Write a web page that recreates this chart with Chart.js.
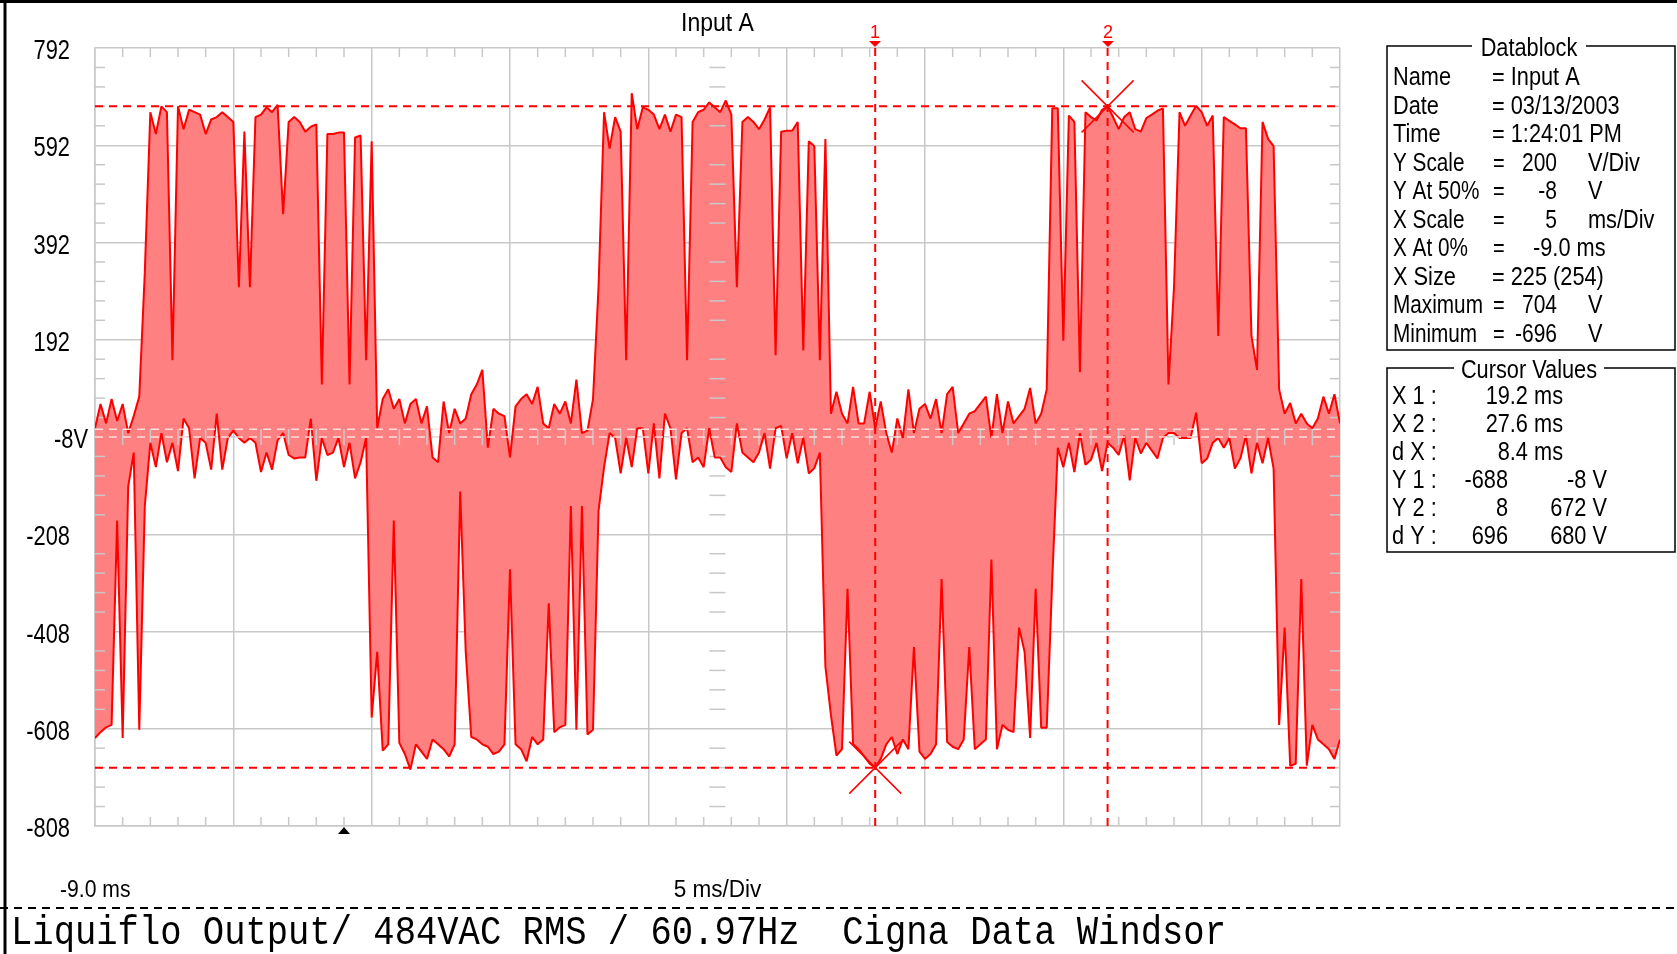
<!DOCTYPE html>
<html>
<head>
<meta charset="utf-8">
<script src="https://cdn.jsdelivr.net/npm/chart.js@4.4.1/dist/chart.umd.min.js"></script>
<style>
  html, body { margin: 0; padding: 0; background: #fff; }
  #wrap { width: 1677px; height: 954px; }
</style>
</head>
<body>
<div id="wrap"><canvas id="scope" width="1677" height="954"></canvas></div>
<script>
// ── Trace data: peak-detect envelope, one pair per 0.2 ms sample ─────
// max envelope (V), 25 samples per 5 ms division
const hiV = [
   10,  60,  20,  70,  25,  60,   0,  35,  75, 330, 660, 615, 672, 660, 150, 672, 625, 665, 660, 655, 615, 645, 650, 660, 650,
  640, 300, 620, 300, 650, 655, 670, 660, 675, 450, 640, 650, 640, 620, 630, 635, 100, 615, 615, 618, 618, 100, 608, 612, 150,
  600,  10,  70,  90,  50,  70,  20,  60,  70,  20,  55, -50, -60,  65,   0,  50,  20,  30,  80, 100, 130, -30,  50,  40,  35,
  -50,  55,  70,  80,  60,  95,  20,  10,  60,  40,  65,  20, 110,   0,   5,  70, 300, 660, 585, 650, 620, 150, 699, 625, 670,
  665, 655, 625, 655, 620, 655, 650, 150, 640, 660, 665, 680, 670, 660, 684, 655, 300, 640, 650, 640, 625, 645, 670, 160, 620,
  622, 622, 640, 170, 600, 590, 150, 605,  40,  85,  40,  20,  95,  20,  20,  85,  10,  65,   0, -40,  30, -10,  90,   0,  50,
   60,  30,  70,   0,  80,  95,   0,  20,  40,  45,  60,  75, -10,  80,   0,  65,  20,  35,  50,  93,  20,  40,  90, 668, 668,
  190, 653, 640, 125, 660, 650, 643, 665, 672, 650, 625, 650, 660, 625, 620, 648, 655, 663, 668, 100, 300, 660, 632, 653, 673,
  660, 632, 653, 200, 650, 642, 635, 627, 627, 200, 130, 640, 605, 590,  90,  40,  62,  20,  40,  20,  10,  30,  75,  40,  80,
   20
];
// min envelope (V)
const loV = [
  -627, -615, -605, -600, -180, -627, -110,  -40, -610, -150,  -20,  -70,    0,  -60,  -20,  -78,   30,   10,  -93,  -10,  -20,  -75,   40,  -75,  -10,
     5,  -10,  -20,  -10,  -20,  -80,  -40,  -75,  -15,    0,  -45,  -52,  -50,  -50,   30,  -98,  -10,  -45,  -40,  -10,  -70,  -20,  -93,  -60,  -10,
  -585, -450, -653, -640, -180, -637, -660, -692, -640, -655, -670, -630, -640, -650, -665, -640, -120, -450, -625, -630, -640, -645, -660, -655, -640,
  -280, -640, -650, -675, -625, -640, -630, -350, -615, -605, -600, -150, -610, -150, -620, -610, -160,  -70,    0,  -10,  -83,  -10,  -70,   10,   10,
   -83,   20,  -93,   40,   10,  -95,    0,   10,  -60,  -50,  -70,   10,  -50,  -50,  -70,  -80,   20,  -40,  -50,  -60,  -40,    0,  -73,   10,   15,
   -52,    0,  -62,  -10,  -83,  -72,  -40, -480, -580, -663, -650, -320, -640, -650, -665, -680, -688, -670, -640, -625, -660, -630, -650, -440, -655,
  -670, -660, -640, -300, -635, -645, -650, -630, -440, -650, -640, -630, -260, -650, -600, -610, -615, -400, -450, -627, -320, -606, -606, -300,  -30,
   -70,  -20,  -80,    0,  -65,  -55,  -20,  -78,  -20,  -30,  -45,   -5,  -97,  -10,  -42,  -20,  -36,  -52,  -10,    0,    0,  -10,  -10,  -10,   42,
   -62,  -52,  -20,  -10,  -30,  -10,  -73,  -52,   -5,  -83,  -20,  -62,  -10,  -73, -600, -400, -684, -680, -300, -684, -600, -630, -640, -650, -670,
  -630
];
// sample clock: X At 0% = -9.0 ms, 0.2 ms per sample
const timeMs = hiV.map((_, i) => -9 + 0.2 * i);

const xMajor = [-9, -4, 1, 6, 11, 16, 21, 26, 31, 36];
const yMajor = [792, 592, 392, 192, -8, -208, -408, -608, -808];
const yTickText = ['792', '592', '392', '192', '-8V', '-208', '-408', '-608', '-808'];

const cursorX = [19.2, 27.6];
const cursorYMain = [-688, 672];
const cursorYRef = [8, -8];
const triggerMs = 0;

const dbLabel = ['Name', 'Date', 'Time', 'Y Scale', 'Y At 50%', 'X Scale', 'X At 0%', 'X Size', 'Maximum', 'Minimum'];
const dbText  = ['= Input A', '= 03/13/2003', '= 1:24:01 PM', '', '', '', '-9.0 ms', '= 225 (254)', '', ''];
const dbNum   = ['', '', '', '200', '-8', '5', '', '', '704', '-696'];
const dbUnit  = ['', '', '', 'V/Div', 'V', 'ms/Div', '', '', 'V', 'V'];

const cvLabel = ['X 1 :', 'X 2 :', 'd X :', 'Y 1 :', 'Y 2 :', 'd Y :'];
const cvA     = ['19.2 ms', '27.6 ms', '8.4 ms', '-688', '8', '696'];
const cvB     = ['', '', '', '-8 V', '672 V', '680 V'];

const footerText = 'Liquiflo Output/ 484VAC RMS / 60.97Hz  Cigna Data Windsor';

const TRACE = '#FF0000';
const FILL  = '#FF8080';
const GRID  = '#C8C8C8';
const SANS  = '"Liberation Sans", Arial, sans-serif';

// condensed text, like the scope's bitmap font
function txt(ctx, s, x, y, size, align, sx, color, family) {
  ctx.save();
  ctx.font = `${size}px ${family || SANS}`;
  ctx.fillStyle = color || '#000';
  ctx.textBaseline = 'alphabetic';
  ctx.textAlign = align || 'left';
  ctx.translate(x, y + size * 0.36);
  ctx.scale(sx || 1, 1);
  ctx.fillText(s, 0, 0);
  ctx.restore();
}

function seg(ctx, x1, y1, x2, y2) {
  ctx.beginPath(); ctx.moveTo(x1, y1); ctx.lineTo(x2, y2); ctx.stroke();
}

function groupBox(ctx, l, t, r, b, title, gapL, gapR) {
  ctx.save();
  ctx.strokeStyle = '#000';
  ctx.lineWidth = 1.5;
  ctx.beginPath();
  ctx.moveTo(gapL, t); ctx.lineTo(l, t); ctx.lineTo(l, b); ctx.lineTo(r, b); ctx.lineTo(r, t); ctx.lineTo(gapR, t);
  ctx.stroke();
  ctx.restore();
  txt(ctx, title, (gapL + gapR) / 2, t + 1, 25, 'center', 0.87);
}

const decor = {
  id: 'decor',
  beforeDatasetsDraw(chart) {
    const { ctx, chartArea: a, scales: { x, y } } = chart;
    ctx.save();
    ctx.strokeStyle = GRID;
    ctx.lineWidth = 1.5;
    const yc = y.getPixelForValue(-8);
    const xc = (a.left + a.right) / 2;
    // minor ticks every 1 ms
    for (let t = -8; t < 36; t++) {
      if ((t + 9) % 5 === 0) continue;
      const px = x.getPixelForValue(t);
      seg(ctx, px, a.top, px, a.top + 9);
      seg(ctx, px, a.bottom - 9, px, a.bottom);
      seg(ctx, px, yc - 8, px, yc + 8);
    }
    // minor ticks every 40 V
    for (let v = -768; v < 792; v += 40) {
      if ((v + 808) % 200 === 0) continue;
      const py = y.getPixelForValue(v);
      seg(ctx, a.left, py, a.left + 10, py);
      seg(ctx, a.right - 10, py, a.right, py);
      seg(ctx, xc - 8, py, xc + 8, py);
    }
    ctx.restore();
  },
  afterDatasetsDraw(chart) {
    const { ctx, chartArea: a, scales: { x, y } } = chart;
    ctx.save();
    // reference level cursors near 0 V (drawn faint, XOR-like)
    ctx.setLineDash([8, 6]);
    ctx.lineWidth = 1.5;
    ctx.strokeStyle = 'rgba(255,225,225,0.95)';
    cursorYRef.forEach(v => { const py = y.getPixelForValue(v); seg(ctx, a.left, py, a.right, py); });
    // main cursors
    ctx.strokeStyle = TRACE;
    ctx.lineWidth = 2;
    cursorYMain.forEach(v => { const py = y.getPixelForValue(v); seg(ctx, a.left, py, a.right, py); });
    cursorX.forEach(t => { const px = x.getPixelForValue(t); seg(ctx, px, a.top, px, a.bottom); });
    ctx.setLineDash([]);
    // X markers at the cursor crossing points
    ctx.lineWidth = 1.5;
    cursorX.forEach((t, k) => {
      const px = x.getPixelForValue(t), py = y.getPixelForValue(cursorYMain[k]);
      seg(ctx, px - 26, py - 26, px + 26, py + 26);
      seg(ctx, px - 26, py + 26, px + 26, py - 26);
    });
    ctx.restore();
  },
  afterDraw(chart) {
    const { ctx, chartArea: a, scales: { x, y } } = chart;
    ctx.save();
    // cursor flags above the plot
    cursorX.forEach((t, k) => {
      const px = Math.round(x.getPixelForValue(t));
      txt(ctx, String(k + 1), px, 32, 18, 'center', 1, TRACE);
      ctx.fillStyle = TRACE;
      ctx.beginPath(); ctx.moveTo(px - 6, a.top - 7); ctx.lineTo(px + 6, a.top - 7); ctx.lineTo(px, a.top - 1); ctx.closePath(); ctx.fill();
    });
    // trigger marker
    const tx = x.getPixelForValue(triggerMs);
    ctx.fillStyle = '#000';
    ctx.beginPath(); ctx.moveTo(tx - 6, a.bottom + 8); ctx.lineTo(tx + 6, a.bottom + 8); ctx.lineTo(tx, a.bottom + 1); ctx.closePath(); ctx.fill();

    // axis texts
    yMajor.forEach((v, k) => {
      const py = y.getPixelForValue(v) + 1;
      const rx = yTickText[k].endsWith('V') ? 88 : 70;
      txt(ctx, yTickText[k], rx, py, 28, 'right', 0.78);
    });
    txt(ctx, 'Input A', (a.left + a.right) / 2, 22, 25, 'center', 0.92);
    txt(ctx, '-9.0 ms', 60, 889, 23, 'left', 0.92);
    txt(ctx, '5 ms/Div', (a.left + a.right) / 2, 889, 23, 'center', 0.98);

    // datablock
    groupBox(ctx, 1387, 46, 1675, 350, 'Datablock', 1472, 1586);
    dbLabel.forEach((lab, k) => {
      const ry = 76 + 28.5 * k;
      txt(ctx, lab, 1393, ry, 25, 'left', lab.length > 6 ? 0.83 : 0.87);
      if (dbText[k].startsWith('=')) {
        txt(ctx, dbText[k], 1492, ry, 25, 'left', 0.87);
      } else {
        txt(ctx, '=', 1493, ry, 25, 'left', 0.8);
        if (dbText[k]) txt(ctx, dbText[k], 1533, ry, 25, 'left', 0.87);
        if (dbNum[k]) txt(ctx, dbNum[k], 1557, ry, 25, 'right', 0.84);
        if (dbUnit[k]) txt(ctx, dbUnit[k], 1588, ry, 25, 'left', 0.87);
      }
    });

    // cursor values
    groupBox(ctx, 1387, 368, 1675, 552, 'Cursor Values', 1454, 1604);
    cvLabel.forEach((lab, k) => {
      const ry = 395 + 28 * k;
      txt(ctx, lab, 1392, ry, 25, 'left', 0.87);
      if (cvB[k]) {
        txt(ctx, cvA[k], 1508, ry, 25, 'right', 0.87);
        txt(ctx, cvB[k], 1607, ry, 25, 'right', 0.87);
      } else {
        txt(ctx, cvA[k], 1563, ry, 25, 'right', 0.87);
      }
    });

    // footer
    ctx.strokeStyle = '#000';
    ctx.lineWidth = 2;
    ctx.setLineDash([8, 6]);
    seg(ctx, 0, 908, 1677, 908);
    ctx.setLineDash([]);
    txt(ctx, footerText, 11, 930, 40, 'left', 0.888, '#000', '"Liberation Mono", "Courier New", monospace');

    // window frame
    ctx.lineWidth = 3;
    seg(ctx, 5, 0, 5, 954);
    seg(ctx, 0, 1.5, 1677, 1.5);
    ctx.restore();
  }
};

const series = arr => arr.map((v, i) => ({ x: timeMs[i], y: v }));

const axisBase = {
  type: 'linear',
  ticks: { display: false },
  grid: { color: GRID, lineWidth: 1.5, drawTicks: false },
  border: { color: GRID, width: 1.5 },
};

new Chart(document.getElementById('scope'), {
  type: 'line',
  data: {
    datasets: [
      { label: 'max', data: series(hiV), borderColor: TRACE, backgroundColor: FILL, borderWidth: 2,
        borderJoinStyle: 'bevel', pointRadius: 0, tension: 0, fill: '+1' },
      { label: 'min', data: series(loV), borderColor: TRACE, backgroundColor: FILL, borderWidth: 2,
        borderJoinStyle: 'bevel', pointRadius: 0, tension: 0, fill: false },
    ]
  },
  plugins: [decor],
  options: {
    responsive: false,
    animation: false,
    events: [],
    layout: { padding: { left: 95, top: 48, right: 337, bottom: 128 } },
    plugins: {
      legend: { display: false },
      tooltip: { enabled: false },
      filler: { drawTime: 'beforeDatasetsDraw' },
    },
    scales: {
      x: { ...axisBase, min: -9, max: 36,
           afterBuildTicks(axis) { axis.ticks = xMajor.map(v => ({ value: v })); } },
      y: { ...axisBase, min: -808, max: 792,
           afterBuildTicks(axis) { axis.ticks = yMajor.map(v => ({ value: v })); } },
    }
  }
});
</script>
</body>
</html>
